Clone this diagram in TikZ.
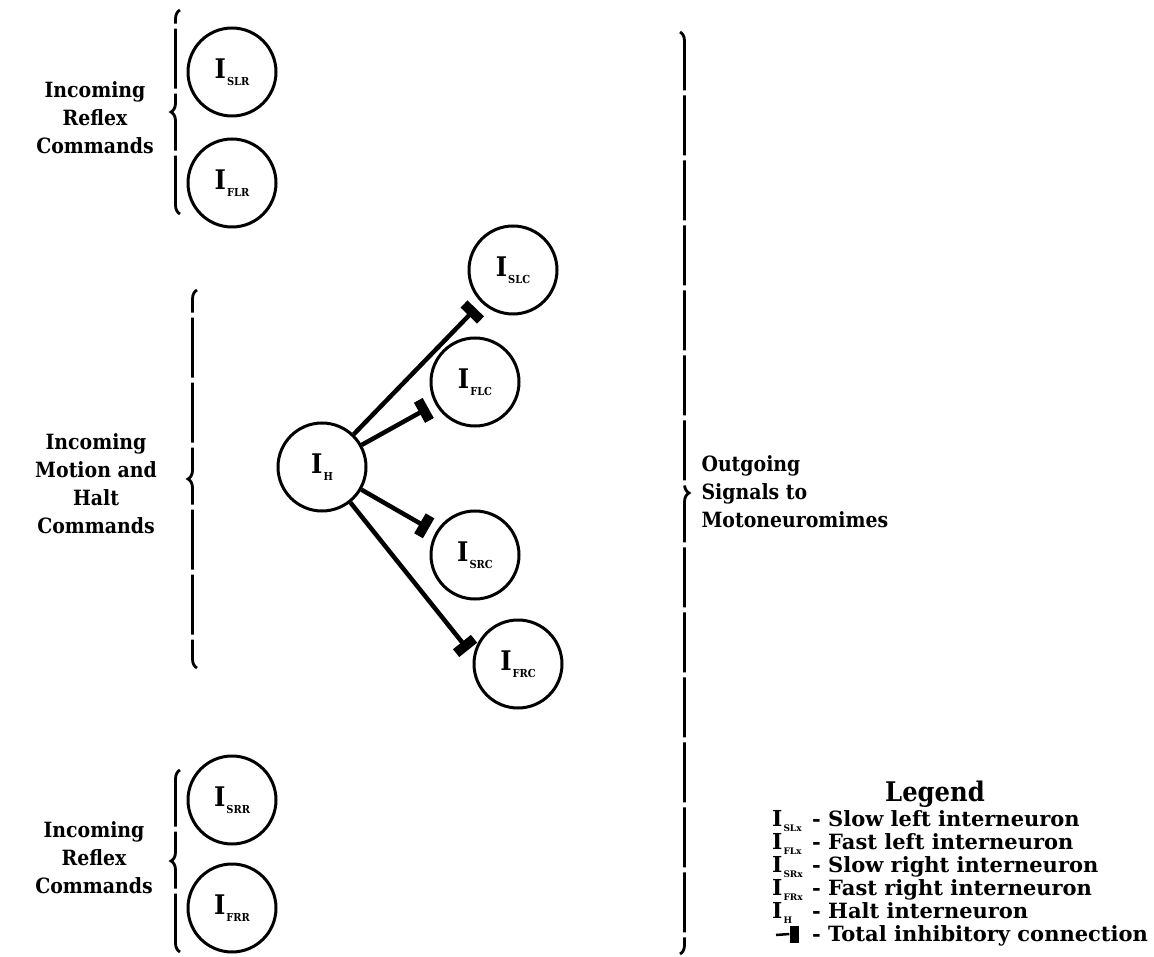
\documentclass[tikz,border=0pt]{standalone}
\usepackage{fontspec}
\setmainfont{DejaVu Serif Condensed}
\newfontfamily\legendfont{DejaVu Serif}
\usetikzlibrary{arrows.meta,decorations.pathreplacing}

% interneuron label: large I with a small-capital subscript
\newcommand{\neurlab}[1]{{\fontsize{27}{27}\selectfont\bfseries I}\kern1pt\raisebox{-7pt}{\fontsize{11}{11}\selectfont\bfseries #1}}
\newcommand{\leglab}[1]{{\fontsize{22}{22}\selectfont\bfseries I}\kern1pt\raisebox{-5pt}{\fontsize{9}{9}\selectfont\bfseries #1}}

\begin{document}
\begin{tikzpicture}[x=1pt,y=-1pt,
  neuron/.style={circle,draw,line width=3pt,minimum size=88pt,inner sep=0pt},
  inhib/.style={line width=4.5pt,-{Rectangle[length=10pt,width=23pt]},shorten >=8pt},
  bracket/.style={decorate,decoration={brace,amplitude=9pt,aspect=0.5},line width=2.8pt,
                  dash pattern=on 60pt off 5pt},
  lab/.style={align=center,font=\fontsize{21}{28}\selectfont\bfseries},
  legtxt/.style={anchor=base west,inner sep=0pt,font=\fontsize{21}{21}\selectfont\legendfont\bfseries},
]
\useasboundingbox (0,0) rectangle (1154,957);

% reflex interneurons, upper group
\node[neuron] (slr) at (232,72)  {\neurlab{SLR}};
\node[neuron] (flr) at (232,183) {\neurlab{FLR}};
% command interneurons
\node[neuron] (ih)  at (322,467) {\neurlab{H}};
\node[neuron] (slc) at (513,270) {\neurlab{SLC}};
\node[neuron] (flc) at (475,382) {\neurlab{FLC}};
\node[neuron] (src) at (475,555) {\neurlab{SRC}};
\node[neuron] (frc) at (518,664) {\neurlab{FRC}};
% reflex interneurons, lower group
\node[neuron] (srr) at (232,800) {\neurlab{SRR}};
\node[neuron] (frr) at (232,908) {\neurlab{FRR}};

% total inhibitory connections from the halt interneuron
\draw[inhib] (ih) -- (slc);
\draw[inhib] (ih) -- (flc);
\draw[inhib] (ih) -- (src);
\draw[inhib] (ih) -- (frc.170);

% input braces
\coordinate (b1s) at (180,214);  \coordinate (b1e) at (180,10);
\coordinate (b2s) at (197,668);  \coordinate (b2e) at (197,290);
\coordinate (b3s) at (180,952);  \coordinate (b3e) at (180,770);
\draw[bracket] (b1s) -- (b1e);
\draw[bracket,dash phase=30pt] (b2s) -- (b2e);
\draw[bracket] (b3s) -- (b3e);
% output brace
\coordinate (b4s) at (680,32);   \coordinate (b4e) at (680,954);
\draw[bracket] (b4s) -- (b4e);

\node[lab] (in1) at (95,118) {Incoming\\Reflex\\Commands};
\node[lab] (in2) at (96,484) {Incoming\\Motion and\\Halt\\Commands};
\node[lab] (in3) at (94,858) {Incoming\\Reflex\\Commands};
\node[lab,align=left,anchor=west] (out) at (698,492) {Outgoing\\Signals to\\Motoneuromimes};

% legend
\node[font=\fontsize{27}{27}\selectfont\bfseries] (leg) at (935,794) {Legend};
\foreach \y/\sym/\txt/\nm in {826/SLx/Slow left interneuron/a,
                              849/FLx/Fast left interneuron/b,
                              872/SRx/Slow right interneuron/c,
                              895/FRx/Fast right interneuron/d,
                              918/H/Halt interneuron/e}{
  \node[legtxt] (s\nm) at (772,\y) {\leglab{\sym}};
  \node[legtxt] (d\nm) at (812,\y) {-};
  \node[legtxt] (t\nm) at (828,\y) {\txt};
}
\node[legtxt] (df) at (812,941) {-};
\node[legtxt] (tf) at (828,941) {Total inhibitory connection};
\node[fill=black,minimum width=9pt,minimum height=17pt,inner sep=0pt] (barf) at (794,934) {};
\coordinate (dashf) at (776,935);
\draw[line width=2.5pt] (dashf) -- (barf.west);
\end{tikzpicture}
\end{document}
